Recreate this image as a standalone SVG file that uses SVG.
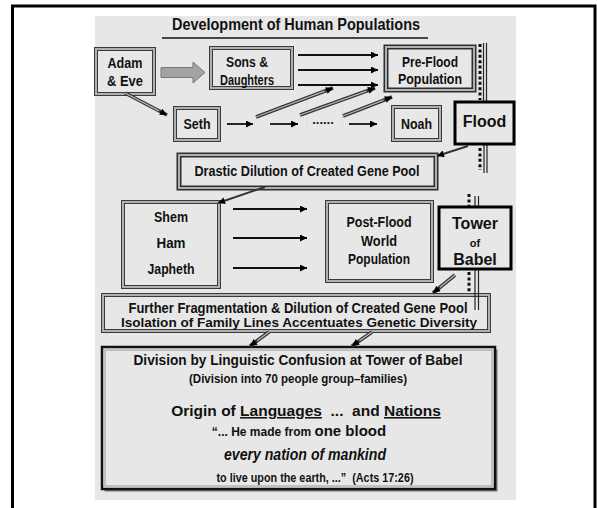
<svg xmlns="http://www.w3.org/2000/svg" width="597" height="508" viewBox="0 0 597 508">
<style>
.panel{fill:#e7e7e7}
.bo{fill:#e7e7e7;stroke:#3a3a3a;stroke-width:4}
.bo5{fill:#e7e7e7;stroke:#2e2e2e;stroke-width:5}
.bi{fill:none;stroke:#b0b0b0;stroke-width:2}
.thick{fill:#e7e7e7;stroke:#000;stroke-width:3}
.t{font-family:"Liberation Sans",Arial,sans-serif;font-weight:bold;fill:#111;text-anchor:middle}
.ar{stroke:#111;stroke-width:1.8;marker-end:url(#ah)}
.dd{stroke:#333;stroke-width:3.6;marker-end:url(#ah)}
.dl{stroke:#b8b8b8;stroke-width:1.3}
.sl{stroke:#333;stroke-width:2;marker-end:url(#ah)}
.dot{stroke:#111;stroke-width:3;stroke-dasharray:3 2.4}
.vl{stroke:#222;stroke-width:1.2}
</style>
<defs>
<marker id="ah" viewBox="0 0 10 10" refX="10" refY="5" markerWidth="9" markerHeight="7" markerUnits="userSpaceOnUse" orient="auto">
<path d="M0,0 L10,5 L0,10 z" fill="#000"/>
</marker>
</defs>
<rect x="0" y="0" width="597" height="508" fill="#fff"/>
<rect x="12.5" y="6" width="582.5" height="600" fill="#fff" stroke="#000" stroke-width="3"/>
<rect class="panel" x="95" y="16" width="421" height="484"/>

<g id="title">
<text class="t" x="296" y="30" font-size="16" textLength="248" lengthAdjust="spacingAndGlyphs">Development of Human Populations</text>
<line x1="162" y1="38" x2="428" y2="38" stroke="#111" stroke-width="1.5"/>
</g>

<g id="timeline-bars">
<line class="dot" x1="480" y1="44" x2="480" y2="100"/>
<line class="vl" x1="483.5" y1="43" x2="483.5" y2="101"/>
<line class="vl" x1="486.5" y1="43" x2="486.5" y2="101"/>
<line class="dot" x1="480" y1="148" x2="480" y2="170"/>
<line class="vl" x1="484" y1="144" x2="484" y2="173"/>
<line class="vl" x1="487" y1="144" x2="487" y2="173"/>
<line class="dot" x1="469" y1="194" x2="469" y2="206"/>
<line class="vl" x1="475" y1="196" x2="475" y2="207"/>
<line class="vl" x1="478.5" y1="196" x2="478.5" y2="207"/>
<line class="dot" x1="469" y1="272" x2="469" y2="297"/>
<line stroke="#ddd" stroke-width="1" x1="307" y1="100" x2="307" y2="131"/>
<line stroke="#ddd" stroke-width="1" x1="342" y1="100" x2="342" y2="131"/>
</g>

<g id="adam-eve">
<rect class="bo" x="96" y="49" width="58" height="45"/><rect class="bi" x="96" y="49" width="58" height="45"/>
<text class="t" x="125" y="68" font-size="14" textLength="35" lengthAdjust="spacingAndGlyphs">Adam</text>
<text class="t" x="125" y="86" font-size="14" textLength="36" lengthAdjust="spacingAndGlyphs">&amp; Eve</text>
</g>

<g id="sons-daughters">
<rect class="bo" x="211" y="48" width="81" height="40"/><rect class="bi" x="211" y="48" width="81" height="40"/>
<text class="t" x="247" y="67" font-size="14" textLength="42" lengthAdjust="spacingAndGlyphs">Sons &amp;</text>
<text class="t" x="247" y="85" font-size="14" textLength="54" lengthAdjust="spacingAndGlyphs">Daughters</text>
</g>

<g id="pre-flood">
<rect class="bo5" x="386" y="47" width="88" height="43"/><rect class="bi" x="386" y="47" width="88" height="43"/>
<text class="t" x="430" y="67" font-size="14" textLength="56" lengthAdjust="spacingAndGlyphs">Pre-Flood</text>
<text class="t" x="430" y="84" font-size="14" textLength="64" lengthAdjust="spacingAndGlyphs">Population</text>
</g>

<g id="seth">
<rect class="bo" x="175" y="108" width="44" height="32"/><rect class="bi" x="175" y="108" width="44" height="32"/>
<text class="t" x="197" y="129" font-size="14" textLength="27" lengthAdjust="spacingAndGlyphs">Seth</text>
</g>

<g id="dots">
<text class="t" x="323" y="124" font-size="13">......</text>
</g>

<g id="noah">
<rect class="bo" x="393" y="107" width="47" height="33"/><rect class="bi" x="393" y="107" width="47" height="33"/>
<text class="t" x="416.5" y="129" font-size="14" textLength="31" lengthAdjust="spacingAndGlyphs">Noah</text>
</g>

<g id="flood">
<rect class="thick" x="455" y="102" width="59" height="42"/>
<text class="t" x="484.5" y="127" font-size="16">Flood</text>
</g>

<g id="drastic">
<rect class="bo5" x="179" y="155" width="257" height="33"/><rect class="bi" x="179" y="155" width="257" height="33"/>
<text class="t" x="307" y="176" font-size="14" textLength="225" lengthAdjust="spacingAndGlyphs">Drastic Dilution of Created Gene Pool</text>
</g>

<g id="sons-of-noah">
<rect class="bo" x="123" y="202" width="96" height="85"/><rect class="bi" x="123" y="202" width="96" height="85"/>
<text class="t" x="171" y="222" font-size="14" textLength="34" lengthAdjust="spacingAndGlyphs">Shem</text>
<text class="t" x="171" y="248" font-size="14" textLength="29" lengthAdjust="spacingAndGlyphs">Ham</text>
<text class="t" x="171" y="274" font-size="14" textLength="47" lengthAdjust="spacingAndGlyphs">Japheth</text>
</g>

<g id="post-flood">
<rect class="bo" x="327" y="202" width="105" height="79"/><rect class="bi" x="327" y="202" width="105" height="79"/>
<text class="t" x="379" y="227" font-size="14" textLength="65" lengthAdjust="spacingAndGlyphs">Post-Flood</text>
<text class="t" x="379" y="246" font-size="14" textLength="36" lengthAdjust="spacingAndGlyphs">World</text>
<text class="t" x="379" y="264" font-size="14" textLength="62" lengthAdjust="spacingAndGlyphs">Population</text>
</g>

<g id="tower">
<rect class="thick" x="439" y="207" width="72" height="62"/>
<text class="t" x="475" y="229" font-size="16">Tower</text>
<text class="t" x="475" y="247" font-size="11">of</text>
<text class="t" x="475" y="265" font-size="16">Babel</text>
</g>

<g id="further">
<rect class="bo" x="103" y="295" width="386" height="36"/><rect class="bi" x="103" y="295" width="386" height="36"/>
<text class="t" x="298" y="313" font-size="14" textLength="339" lengthAdjust="spacingAndGlyphs">Further Fragmentation &amp; Dilution of Created Gene Pool</text>
<text class="t" x="299" y="327" font-size="13.5" textLength="356" lengthAdjust="spacingAndGlyphs">Isolation of Family Lines Accentuates Genetic Diversity</text>
<line class="vl" x1="475" y1="269" x2="475" y2="310"/>
<line class="vl" x1="478.5" y1="269" x2="478.5" y2="310"/>
</g>

<g id="division">
<rect x="104.5" y="349.5" width="393" height="142" fill="#777"/>
<rect x="102" y="347" width="393" height="142" fill="#e7e7e7" stroke="#111" stroke-width="2.5"/>
<rect x="105" y="350" width="387" height="136" fill="none" stroke="#9a9a9a" stroke-width="1"/>
<text class="t" x="298" y="365" font-size="14" textLength="329" lengthAdjust="spacingAndGlyphs">Division by Linguistic Confusion at Tower of Babel</text>
<text class="t" x="298" y="383" font-size="12.5" textLength="218" lengthAdjust="spacingAndGlyphs">(Division into 70 people group–families)</text>
<text class="t" x="306" y="416" font-size="15.5" xml:space="preserve">Origin of <tspan text-decoration="underline">Languages</tspan>  ...  and <tspan text-decoration="underline">Nations</tspan></text>
<text class="t" x="299" y="436"><tspan font-size="12">“... He made from </tspan><tspan font-size="15">one blood</tspan></text>
<text class="t" x="305" y="460" font-size="16" font-style="italic" textLength="162" lengthAdjust="spacingAndGlyphs">every nation of mankind</text>
<text class="t" x="315" y="482" font-size="12.5" textLength="197" lengthAdjust="spacingAndGlyphs" xml:space="preserve">to live upon the earth, ...”  (Acts 17:26)</text>
</g>

<g id="connectors">
<path d="M161,67.5 H193 V62 L205,72.5 L193,83 V77.5 H161 Z" fill="#a3a3a3" stroke="#777" stroke-width="1"/>
<line class="ar" x1="298" y1="55" x2="378" y2="55"/>
<line class="ar" x1="298" y1="70" x2="378" y2="70"/>
<line class="ar" x1="298" y1="85" x2="378" y2="85"/>
<line class="dd" x1="125" y1="93" x2="167" y2="115"/><line class="dl" x1="125" y1="93" x2="159" y2="110.8"/>
<line class="ar" x1="227" y1="124" x2="253" y2="124"/>
<line class="ar" x1="270" y1="124" x2="298" y2="124"/>
<line class="ar" x1="349" y1="124" x2="377" y2="124"/>
<line class="dd" x1="256" y1="117" x2="333" y2="88"/><line class="dl" x1="256" y1="117" x2="324.6" y2="91.2"/>
<line class="dd" x1="300" y1="115" x2="375" y2="88"/><line class="dl" x1="300" y1="115" x2="366.5" y2="91.1"/>
<line class="dd" x1="343" y1="116" x2="392" y2="97"/><line class="dl" x1="343" y1="116" x2="383.6" y2="100.2"/>
<line class="sl" x1="468" y1="146" x2="437" y2="156"/>
<line class="sl" x1="265" y1="187" x2="218" y2="203"/>
<line class="ar" x1="233" y1="209" x2="307" y2="209"/>
<line class="ar" x1="233" y1="238" x2="307" y2="238"/>
<line class="ar" x1="233" y1="268" x2="307" y2="268"/>
<line class="dd" x1="455" y1="275" x2="433" y2="293"/><line class="dl" x1="455" y1="275" x2="440" y2="287.3"/>
<line class="dd" x1="269" y1="332" x2="250" y2="346"/><line class="dl" x1="269" y1="332" x2="257.2" y2="340.7"/>
<line class="dd" x1="372" y1="332" x2="352" y2="346"/><line class="dl" x1="372" y1="332" x2="359.4" y2="340.8"/>
</g>
</svg>
